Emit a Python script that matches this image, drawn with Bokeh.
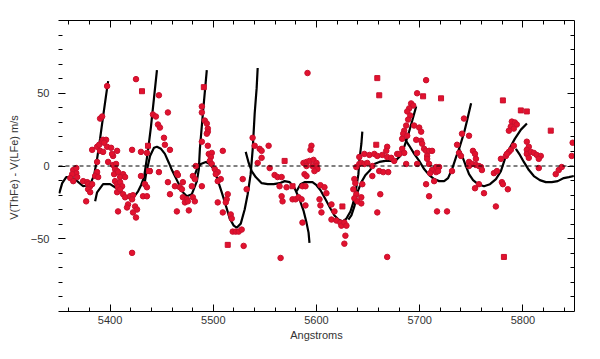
from bokeh.plotting import figure
from bokeh.models import Range1d, LinearAxis, FixedTicker, Span, CustomJSTickFormatter
from bokeh.embed import file_html
from bokeh.resources import INLINE

# ---- measured points (wavelength in Angstrom, velocity difference in m/s) ----
circ_x = [5364.3, 5367.2, 5368.1, 5363.3, 5361.4, 5364.3, 5367.2, 5373.9, 5377.8, 5378.7,
          5380.7, 5382.6, 5378.7, 5380.7, 5376.8, 5387.4, 5385.5, 5388.4, 5382.6, 5387.4,
          5390.3, 5393.2, 5397.1, 5389.4, 5392.3, 5393.2, 5396.1, 5394.2, 5390.3, 5392.3,
          5397.1, 5387.4, 5398.1, 5401.0, 5402.9, 5406.8, 5401.9, 5402.9, 5405.8, 5404.8,
          5406.8, 5403.9, 5407.7, 5412.6, 5409.7, 5414.5, 5404.8, 5406.8, 5409.7, 5411.6,
          5407.7, 5406.8, 5409.7, 5412.6, 5414.5, 5419.3, 5422.2, 5421.3, 5417.4, 5416.4,
          5424.2, 5426.1, 5422.2, 5425.1, 5407.7, 5421.3, 5425.1, 5421.3, 5429.9, 5435.7,
          5429.9, 5433.8, 5435.7, 5431.9, 5435.7, 5438.6, 5441.5, 5444.4, 5446.4, 5448.3,
          5447.3, 5456.0, 5452.2, 5453.1, 5458.0, 5447.3, 5456.0, 5458.0, 5462.8, 5467.6,
          5470.5, 5469.6, 5464.7, 5465.7, 5464.7, 5470.5, 5474.4, 5472.5, 5475.3, 5480.2,
          5482.1, 5476.3, 5480.2, 5482.1, 5479.2, 5483.1, 5488.9, 5488.9, 5488.9, 5491.8,
          5493.7, 5494.7, 5494.7, 5493.7, 5488.9, 5494.7, 5495.6, 5498.5, 5497.6, 5496.6,
          5498.5, 5509.2, 5501.4, 5504.3, 5502.4, 5507.2, 5504.3, 5514.0, 5513.0, 5504.3,
          5512.1, 5509.2, 5516.9, 5517.9, 5518.8, 5521.7, 5524.6, 5527.5, 5529.4, 5528.5,
          5532.3, 5538.1, 5540.1, 5544.9, 5546.8, 5553.6, 5546.8, 5543.0, 5554.6, 5559.4,
          5562.3, 5566.2, 5564.2, 5571.0, 5566.2, 5567.1, 5565.2, 5576.8, 5579.7, 5582.6,
          5585.5, 5591.3, 5595.1, 5594.2, 5587.4, 5590.3, 5593.2, 5597.1, 5600.0, 5600.0,
          5600.9, 5596.1, 5590.3, 5598.0, 5588.4, 5590.3, 5589.3, 5586.4, 5586.4, 5589.3,
          5603.8, 5607.7, 5609.6, 5602.9, 5603.8, 5604.8, 5614.5, 5617.4, 5614.5, 5619.3,
          5623.1, 5624.1, 5627.0, 5629.0, 5628.0, 5627.0, 5636.7, 5637.6, 5635.7, 5638.6,
          5636.7, 5639.6, 5643.4, 5643.4, 5644.4, 5638.6, 5641.5, 5641.5, 5643.4, 5646.3,
          5651.2, 5656.0, 5658.9, 5663.7, 5668.5, 5672.4, 5678.2, 5675.3, 5646.3, 5649.2,
          5654.1, 5668.5, 5667.6, 5660.8, 5664.7, 5669.5, 5654.1, 5661.8, 5658.9, 5668.5,
          5706.2, 5697.5, 5691.7, 5693.7, 5689.8, 5687.9, 5690.8, 5688.8, 5686.9, 5685.0,
          5684.0, 5687.9, 5683.0, 5694.6, 5699.5, 5701.4, 5696.6, 5701.4, 5702.4, 5704.3,
          5706.2, 5709.1, 5712.0, 5707.2, 5697.5, 5683.0, 5685.0, 5680.1, 5686.9, 5697.5,
          5709.1, 5707.2, 5715.9, 5718.8, 5712.0, 5715.9, 5710.1, 5706.2, 5709.1, 5716.8,
          5726.5, 5714.0, 5717.8, 5731.3, 5736.2, 5738.1, 5740.0, 5742.9, 5741.0, 5747.8,
          5751.6, 5753.6, 5754.5, 5747.8, 5750.7, 5754.5, 5757.4, 5759.4, 5760.3, 5747.8,
          5753.6, 5757.4, 5762.3, 5771.9, 5774.8, 5779.6, 5780.6, 5785.4, 5773.8, 5778.7,
          5783.5, 5786.4, 5788.3, 5791.2, 5784.5, 5789.3, 5792.2, 5794.1, 5788.3, 5791.2,
          5786.4, 5803.8, 5805.7, 5803.8, 5803.8, 5807.7, 5810.6, 5813.4, 5817.3, 5815.4,
          5805.7, 5815.4, 5831.8, 5834.7, 5837.6, 5848.2, 5847.3]
circ_y = [-2.8, -4.9, -7.6, -5.6, -8.3, -10.4, -1.4, -10.4, -11.1, -12.5,
          -13.9, -12.5, -16.0, -18.0, -24.3, -4.2, -6.9, -7.6, 11.1, 13.2,
          10.4, 9.7, 13.2, 14.6, 16.7, 18.0, 18.0, 16.0, 32.6, 34.0,
          54.9, 2.8, 2.8, 12.5, 6.9, 10.4, 8.3, 0.7, 1.4, -2.1,
          -3.5, -5.6, -4.2, -5.6, -7.6, -7.6, -10.4, -12.5, -11.1, -13.9,
          -14.6, -18.0, -16.0, -19.4, -21.5, -20.8, -20.1, -22.9, -26.4, -28.5,
          -27.8, -29.9, -31.9, -35.4, -31.2, -59.7, 59.7, 11.1, 9.7, 9.0,
          -6.9, -12.5, -14.6, -20.8, -20.8, -3.5, 35.4, 34.0, 28.5, 26.4,
          48.6, 36.8, 19.4, 14.6, 11.1, -4.2, -11.1, -19.4, -13.9, -14.6,
          -11.1, -16.0, -4.9, -6.2, -31.2, -21.5, -22.9, -25.0, -24.3, -21.5,
          -24.3, -30.5, -6.9, -9.0, -13.9, 0.0, -13.9, 40.9, 36.8, 31.2,
          29.2, 25.7, 23.6, 22.2, 16.7, 13.9, 8.3, 9.0, 6.2, 3.5,
          1.4, 10.4, -2.1, -4.2, -5.6, -9.0, -10.4, -19.4, -22.9, -25.0,
          -25.0, -31.9, -33.3, -36.1, -45.1, -45.1, -45.1, -43.7, -54.9, -9.0,
          -16.0, 19.4, 13.9, 11.8, 10.4, 13.9, 5.6, 2.1, -1.4, -6.2,
          -7.6, -7.6, -13.9, -14.6, -20.8, -24.3, -63.2, -22.9, -22.9, -21.5,
          -22.9, 63.9, 13.9, 11.1, 2.1, 2.8, 3.5, 4.2, 2.1, 0.0,
          -2.1, 0.0, 0.0, -3.5, -5.6, -6.9, -27.1, -38.9, -13.9, -13.9,
          -13.2, -14.6, -18.7, -22.9, -27.1, -31.9, -26.4, -31.2, -36.8, -37.5,
          -38.9, -41.0, -38.9, -41.0, -47.9, -53.4, -9.0, -11.8, -16.0, -19.4,
          -22.2, -24.3, -21.5, -25.7, -12.5, -0.7, 1.4, 6.2, 2.1, 8.3,
          7.6, 8.3, 6.9, 7.6, 6.2, 5.6, 8.3, 3.5, 1.4, 2.1,
          0.0, 13.2, 10.4, -3.5, -4.2, -4.2, -6.9, -19.4, -31.9, -62.5,
          59.0, 50.0, 43.0, 41.6, 39.6, 37.5, 34.7, 31.9, 27.8, 24.3,
          22.2, 20.8, 18.7, 27.8, 26.4, 23.6, 18.0, 17.4, 15.3, 11.8,
          10.4, 10.4, 10.4, 6.9, 9.0, 11.8, 9.0, 8.3, 1.4, 1.4,
          1.4, 4.9, -0.7, -0.7, -2.8, -4.2, -4.9, -12.5, -20.8, -31.2,
          -31.2, -10.4, -3.5, -3.5, 14.6, 9.0, 6.9, 32.6, 22.2, 20.8,
          10.4, 8.3, 4.9, 2.8, 1.4, 0.7, 0.0, -0.7, -2.8, 0.0,
          -15.3, -12.5, -18.7, -4.9, -3.5, -11.1, -12.5, -16.0, -27.8, 4.9,
          6.9, 9.7, 11.1, 13.9, 8.3, 30.5, 29.9, 28.5, 27.1, 25.7,
          24.3, 16.7, 13.2, 11.1, 8.3, 9.7, 9.0, 7.6, 6.9, 4.9,
          5.6, -1.4, -5.6, -2.8, -0.7, 16.0, 6.9]

sq_x = [5430.9, 5436.7, 5437.7, 5490.8, 5514.0, 5569.1, 5576.8, 5625.1, 5658.9, 5660.8,
        5657.9, 5703.3, 5720.7, 5780.6, 5781.6, 5827.0, 5798.0, 5803.8]
sq_y = [51.4, 13.9, -3.5, 54.2, -54.2, 3.5, -13.9, -27.8, 60.4, 48.6,
        14.6, 47.9, 46.5, 45.1, -62.5, 24.3, 38.2, 37.5]

# ---- model curve segments ----
seg1_x = [5350.7, 5353.6, 5357.5, 5362.3, 5368.1, 5373.9, 5378.7, 5381.6, 5384.5, 5387.4, 5390.3, 5393.2, 5396.1, 5398.1]
seg1_y = [-18.8, -11.8, -7.6, -7.6, -10.4, -13.9, -13.2, -11.1, -6.3, 4.9, 18.8, 34.0, 48.6, 58.3]
seg2_x = [5385.5, 5387.4, 5393.2, 5400.0, 5407.7, 5416.4, 5421.3, 5427.1, 5430.0, 5432.9, 5436.7, 5439.6, 5442.5, 5445.4]
seg2_y = [-24.3, -18.1, -12.5, -12.5, -16.0, -21.5, -22.9, -17.4, -13.2, -7.6, 10.4, 27.1, 46.5, 65.9]
seg3_x = [5432.9, 5434.8, 5438.7, 5442.5, 5445.4, 5449.3, 5453.1, 5457.0, 5459.9, 5464.7, 5470.5, 5474.4, 5479.2, 5484.1, 5486.0, 5487.0, 5489.9, 5493.7]
seg3_y = [-14.6, -5.6, 6.9, 12.5, 13.2, 11.8, 8.3, 2.1, -2.8, -9.7, -18.1, -20.8, -19.4, -10.4, -2.1, 11.8, 36.1, 65.9]
seg4_x = [5480.2, 5484.1, 5487.9, 5492.8, 5496.6, 5500.5, 5504.3, 5508.2, 5512.1, 5515.9, 5519.8, 5522.7, 5526.6, 5530.4, 5533.3, 5536.2, 5538.2, 5540.1, 5542.0, 5543.0]
seg4_y = [-9.7, -2.1, 1.4, 2.8, 1.4, -2.1, -9.7, -18.1, -27.1, -36.1, -41.0, -42.4, -39.6, -29.9, -19.4, -5.6, 11.8, 36.1, 53.5, 67.4]
seg5_x = [5531.4, 5534.3, 5537.2, 5541.1, 5546.9, 5552.7, 5558.5, 5564.3, 5569.1, 5574.0, 5578.8, 5583.6, 5587.4, 5590.3, 5592.3, 5593.2]
seg5_y = [9.7, 2.1, -3.5, -7.6, -11.8, -12.5, -12.5, -11.8, -10.4, -11.1, -15.3, -22.9, -30.6, -38.9, -45.8, -52.8]
seg6_x = [5580.7, 5584.5, 5588.4, 5592.3, 5596.1, 5600.0, 5603.9, 5608.7, 5613.5, 5617.4, 5621.3, 5625.1, 5629.0, 5632.9, 5635.7, 5638.6, 5640.6, 5641.5, 5643.5, 5644.4]
seg6_y = [-17.4, -12.5, -11.1, -11.1, -11.1, -13.2, -16.7, -22.9, -29.2, -34.0, -36.8, -38.2, -36.1, -31.3, -25.0, -14.6, -5.6, 3.5, 15.3, 23.6]
seg7_x = [5630.9, 5633.8, 5636.7, 5639.6, 5643.5, 5647.3, 5651.2, 5656.0, 5660.9, 5666.7, 5672.5, 5677.3, 5681.2, 5685.0, 5688.9, 5692.8, 5696.6]
seg7_y = [-36.8, -34.0, -27.8, -18.1, -11.1, -6.3, -3.5, 1.4, 2.8, 3.5, 3.5, 4.2, 6.9, 13.2, 21.5, 31.3, 41.0]
seg8_x = [5682.1, 5686.0, 5689.9, 5694.7, 5699.5, 5704.3, 5709.2, 5714.0, 5718.8, 5723.7, 5727.5, 5731.4, 5735.3, 5739.1, 5743.0, 5745.9, 5749.8]
seg8_y = [20.8, 18.1, 13.9, 8.3, 3.5, -2.1, -6.3, -9.0, -10.4, -10.4, -8.3, -2.1, 6.3, 13.9, 22.9, 31.3, 43.1]
seg9_x = [5738.2, 5741.1, 5744.0, 5747.8, 5751.7, 5756.5, 5762.3, 5768.1, 5773.9, 5778.7, 5782.6, 5787.4, 5792.3, 5798.1, 5803.9]
seg9_y = [11.8, 6.9, 1.4, -5.6, -9.7, -12.5, -13.9, -12.5, -9.0, -3.5, 4.9, 12.5, 18.8, 25.0, 29.2]
seg10_x = [5793.2, 5797.1, 5800.9, 5805.8, 5810.6, 5816.4, 5822.2, 5828.0, 5833.8, 5839.6, 5844.5, 5849.3]
seg10_y = [11.8, 7.6, 2.8, -2.8, -6.9, -9.7, -11.1, -11.1, -10.4, -8.3, -7.6, -6.9]

x_major = [5400, 5500, 5600, 5700, 5800]
y_major = [-50, 0, 50]

FONT = "Liberation Sans"
TXT = "#333333"

p = figure(width=592, height=350, x_range=Range1d(5350, 5850), y_range=Range1d(-100, 100),
           output_backend="svg", toolbar_location=None,
           min_border_left=58, min_border_right=18, min_border_top=20, min_border_bottom=39)
p.xgrid.visible = False
p.ygrid.visible = False
p.outline_line_color = None
p.background_fill_color = "white"
p.border_fill_color = "white"

xt = FixedTicker(ticks=x_major, minor_ticks=list(range(5360, 5850, 20)))
yt = FixedTicker(ticks=y_major, minor_ticks=list(range(-90, 100, 10)))

def style(ax):
    ax.major_tick_in = 7
    ax.major_tick_out = 0
    ax.minor_tick_in = 4
    ax.minor_tick_out = 0
    ax.major_tick_line_color = "black"
    ax.minor_tick_line_color = "black"
    ax.axis_line_color = "black"
    ax.major_label_text_font = FONT
    ax.major_label_text_font_size = "11px"
    ax.major_label_text_color = TXT
    ax.axis_label_text_font = FONT
    ax.axis_label_text_font_size = "11px"
    ax.axis_label_text_font_style = "normal"
    ax.axis_label_text_color = TXT

xa = p.xaxis[0]
xa.ticker = xt
style(xa)
xa.axis_label = "Angstroms"
xa.major_label_standoff = 4
xa.axis_label_standoff = 2

ya = p.yaxis[0]
ya.ticker = yt
style(ya)
ya.axis_line_color = None
ya.axis_label = "V(ThFe) - V(LFe)  m/s"
ya.major_label_standoff = 9
ya.axis_label_standoff = 8

blank = CustomJSTickFormatter(code="return ''")
top = LinearAxis(ticker=FixedTicker(ticks=x_major, minor_ticks=list(range(5360, 5850, 20))), formatter=blank)
style(top)
top.major_label_text_color = None
p.add_layout(top, "above")
right = LinearAxis(ticker=FixedTicker(ticks=y_major, minor_ticks=list(range(-90, 100, 10))), formatter=blank)
style(right)
right.major_label_text_color = None
p.add_layout(right, "right")

p.add_layout(Span(location=0, dimension="width", line_color="black", line_width=1, line_dash="4 3"))

segs = [(seg1_x, seg1_y), (seg2_x, seg2_y), (seg3_x, seg3_y), (seg4_x, seg4_y), (seg5_x, seg5_y),
        (seg6_x, seg6_y), (seg7_x, seg7_y), (seg8_x, seg8_y), (seg9_x, seg9_y), (seg10_x, seg10_y)]
for sx, sy in segs:
    p.line(sx, sy, line_color="black", line_width=2.2)

p.scatter(circ_x, circ_y, marker="circle", size=5.5, fill_color="#e2122e", line_color="#c8102e")
p.scatter(sq_x, sq_y, marker="square", size=5, fill_color="#e2122e", line_color="#c8102e")

open("out.html", "w").write(file_html(p, INLINE))
